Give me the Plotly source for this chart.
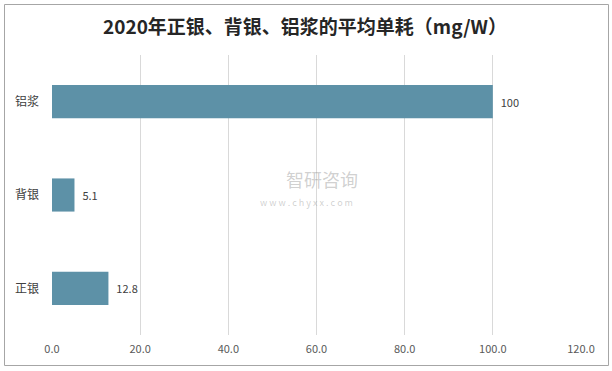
import plotly.graph_objects as go

categories = ["正银", "背银", "铝浆"]
values = [12.8, 5.1, 100]
x_ticks = [0, 20, 40, 60, 80, 100, 120]
x_tick_labels = ["0.0", "20.0", "40.0", "60.0", "80.0", "100.0", "120.0"]
value_labels = ["12.8", "5.1", "100"]

font_family = "Noto Sans CJK SC, Noto Sans, sans-serif"
label_font = dict(size=11, color="#404040", family=font_family)

fig = go.Figure()
fig.add_trace(go.Bar(
    y=categories, x=values, orientation="h",
    marker=dict(color="#5d91a7", line=dict(width=0)),
    text=["  " + t for t in value_labels], texttemplate="%{text}",
    textposition="outside", cliponaxis=False, constraintext="none",
    textfont=label_font, outsidetextfont=label_font, insidetextfont=label_font,
    width=0.355, hoverinfo="skip",
))

L, R, T, B = 52, 31, 55, 36
W, H = 612, 371
pw, ph = W - L - R, H - T - B

def px_x(p):
    return (p - L) / pw

def px_y(p):
    return (H - B - p) / ph

fig.update_layout(
    width=W, height=H,
    margin=dict(l=L, r=R, t=T, b=B, autoexpand=False),
    paper_bgcolor="white", plot_bgcolor="white",
    showlegend=False,
    font=dict(family=font_family),
    title=dict(
        text="<b>2020年正银、背银、铝浆的平均单耗（mg/W）</b>",
        x=px_x(305), xanchor="center", y=1 - 27 / H, yanchor="middle",
        xref="paper",
        font=dict(size=19, color="#262626", family=font_family),
    ),
    xaxis=dict(
        range=[0, 120], tickvals=x_ticks, ticktext=x_tick_labels,
        showgrid=True, gridcolor="#d9d9d9", gridwidth=1,
        zeroline=False, showline=False, ticks="",
        tickfont=dict(size=11, color="#595959", family=font_family),
        ticklabelstandoff=6,
    ),
    yaxis=dict(
        categoryorder="array", categoryarray=categories,
        showgrid=False, zeroline=False, showline=False, ticks="",
        tickfont=dict(size=12, color="#404040", family=font_family),
        ticklabelstandoff=12,
    ),
    shapes=[dict(
        type="rect", xref="paper", yref="paper",
        x0=px_x(4.5), x1=px_x(608.5), y0=px_y(365.5), y1=px_y(4.5),
        line=dict(color="#a6a6a6", width=1), fillcolor="rgba(0,0,0,0)",
        layer="below",
    )],
    annotations=[
        dict(text="智研咨询", xref="paper", yref="paper",
             x=px_x(322), y=px_y(179), showarrow=False,
             font=dict(size=18, color="rgba(150,150,150,0.45)", family=font_family)),
        dict(text="w w w . c h y x x . c o m", xref="paper", yref="paper",
             x=px_x(306), y=px_y(202), showarrow=False,
             font=dict(size=9, color="rgba(150,150,150,0.45)", family=font_family)),
    ],
)

fig.write_html("out.html", config={"displayModeBar": False, "staticPlot": True},
               post_script="document.body.style.margin='0';")
